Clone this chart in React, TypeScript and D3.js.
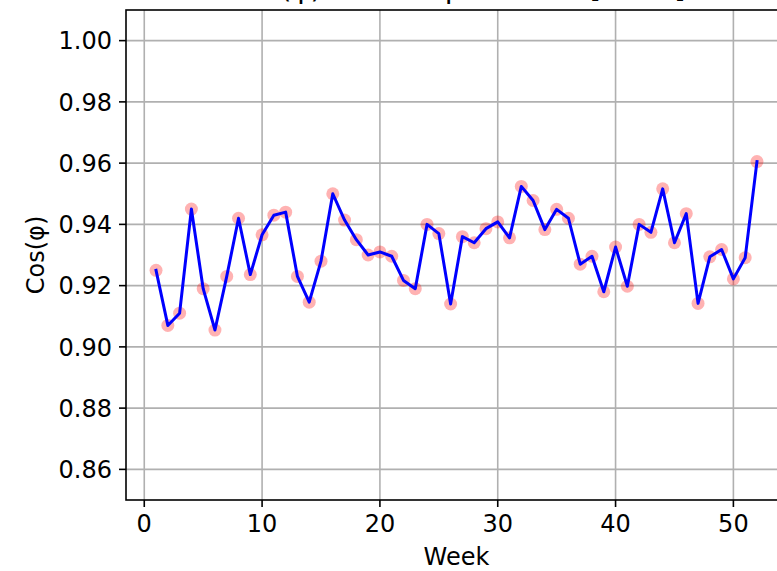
import React from "react";
import * as d3 from "d3";

// Weekly power factor medians
const weeks: number[] = Array.from({ length: 52 }, (_, i) => i + 1);
const cosPhi: number[] = [
  0.925, 0.907, 0.911, 0.945, 0.919, 0.9055, 0.923, 0.942, 0.9236, 0.9366,
  0.943, 0.944, 0.923, 0.9146, 0.928, 0.95, 0.9414, 0.935, 0.93, 0.931,
  0.9296, 0.9217, 0.919, 0.94, 0.937, 0.914, 0.936, 0.934, 0.9386, 0.9408,
  0.9356, 0.9524, 0.9478, 0.9383, 0.9449, 0.942, 0.927, 0.9296, 0.918, 0.9326,
  0.9198, 0.94, 0.9374, 0.9516, 0.934, 0.9435, 0.9142, 0.9294, 0.9318, 0.9222,
  0.9291, 0.9605,
];
const xTicks: number[] = [0, 10, 20, 30, 40, 50];
const yTicks: number[] = [0.86, 0.88, 0.9, 0.92, 0.94, 0.96, 0.98, 1.0];
const title = "Cos(φ) Median per Week [2023]";
const xLabel = "Week";
const yLabel = "Cos(φ)";

const W = 777;
const H = 571;
const left = 126;
const right = 787;
const top = 10;
const bottom = 500;
const font = "DejaVu Sans, sans-serif";

export default function App() {
  const x = d3.scaleLinear().domain([-1.55, 54.55]).range([left, right]);
  const y = d3.scaleLinear().domain([0.85, 1.01]).range([bottom, top]);
  const pts = weeks.map((w, i) => [w, cosPhi[i]] as [number, number]);
  const line = d3
    .line<[number, number]>()
    .x((d) => x(d[0]))
    .y((d) => y(d[1]));
  const cx = (left + right) / 2;

  return (
    <svg
      width={W}
      height={H}
      style={{ position: "fixed", left: 0, top: 0, background: "#fff" }}
      fontFamily={font}
    >
      <rect x={0} y={0} width={W} height={H} fill="#fff" />
      {/* grid */}
      {xTicks.map((t) => (
        <line key={"gx" + t} x1={x(t)} x2={x(t)} y1={top} y2={bottom} stroke="#b0b0b0" strokeWidth={1.6} />
      ))}
      {yTicks.map((t) => (
        <line key={"gy" + t} x1={left} x2={right} y1={y(t)} y2={y(t)} stroke="#b0b0b0" strokeWidth={1.6} />
      ))}
      {/* markers */}
      {pts.map((d, i) => (
        <circle key={"m" + i} cx={x(d[0])} cy={y(d[1])} r={6.5} fill="red" fillOpacity={0.3} />
      ))}
      {/* line */}
      <path d={line(pts) ?? ""} fill="none" stroke="#0000ff" strokeWidth={3} strokeLinejoin="round" strokeLinecap="square" />
      {/* spines */}
      <rect x={left} y={top} width={right - left} height={bottom - top} fill="none" stroke="#000" strokeWidth={1.6} />
      {/* x ticks */}
      {xTicks.map((t) => (
        <g key={"xt" + t}>
          <line x1={x(t)} x2={x(t)} y1={bottom} y2={bottom + 7} stroke="#000" strokeWidth={1.6} />
          <text x={x(t)} y={bottom + 14} dy="0.76em" textAnchor="middle" fontSize={24} fill="#000">
            {t}
          </text>
        </g>
      ))}
      {/* y ticks */}
      {yTicks.map((t) => (
        <g key={"yt" + t}>
          <line x1={left - 7} x2={left} y1={y(t)} y2={y(t)} stroke="#000" strokeWidth={1.6} />
          <text x={left - 14} y={y(t)} dy="0.36em" textAnchor="end" fontSize={24} fill="#000">
            {t.toFixed(2)}
          </text>
        </g>
      ))}
      <text x={cx} y={565} textAnchor="middle" fontSize={24} fill="#000">
        {xLabel}
      </text>
      <text
        transform={`translate(44, ${(top + bottom) / 2}) rotate(-90)`}
        textAnchor="middle"
        fontSize={24}
        fill="#000"
      >
        {yLabel}
      </text>
      <text x={cx} y={-2} textAnchor="middle" fontSize={28.8} fill="#000">
        {title}
      </text>
    </svg>
  );
}
